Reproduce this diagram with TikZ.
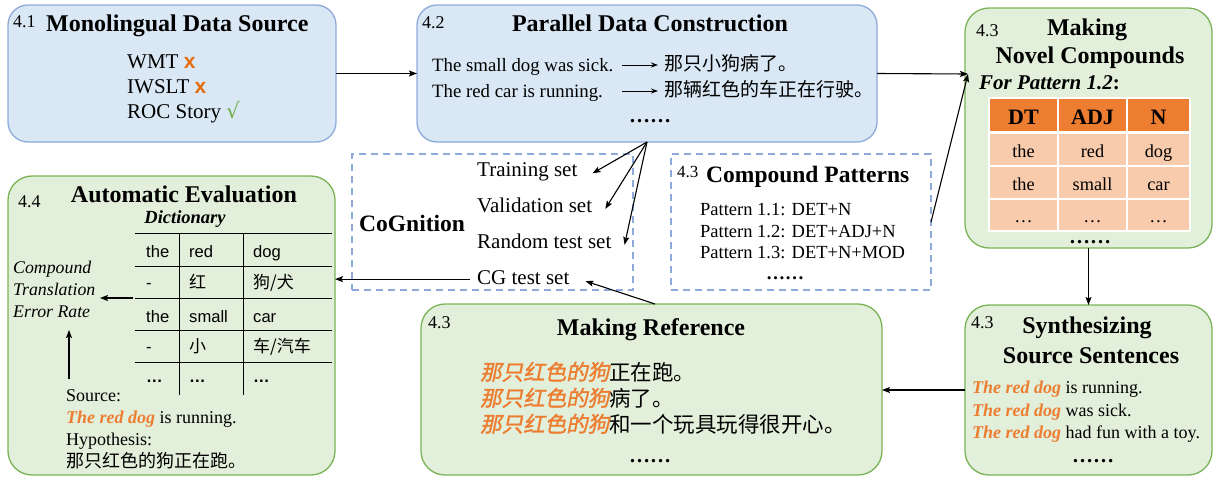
\documentclass[tikz,border=0pt]{standalone}
\usepackage{fontspec}
\setmainfont{Liberation Serif}
\newfontfamily\cjk{Noto Sans CJK SC}
\newfontfamily\cjkit[FakeSlant=0.2,FakeBold=1.5]{Noto Sans CJK SC}
\newfontfamily\dvs{DejaVu Sans}
\newfontfamily\lsans{Liberation Sans}
\usetikzlibrary{arrows.meta}
\newcommand\fsz[1]{\fontsize{#1}{#1}\selectfont}
\definecolor{blueF}{HTML}{DAE8F5}
\definecolor{blueD}{HTML}{8EAADB}
\definecolor{greenF}{HTML}{E2EFDA}
\definecolor{greenD}{HTML}{7AB356}
\definecolor{orT}{HTML}{ED7D31}
\definecolor{hdrO}{HTML}{ED7D31}
\definecolor{cellO}{HTML}{F8CBAD}
\definecolor{xOr}{HTML}{E46C0A}
\definecolor{ckG}{HTML}{70AD47}
\newcommand\mycross{\textcolor{xOr}{\lsans\bfseries x}}
\newcommand\mycheck{\textcolor{ckG}{\dvs √}}
\newcommand\ored[1]{\textcolor{orT}{\bfseries\itshape #1}}
\newcommand\ojk[1]{{\cjkit\textcolor{orT}{#1}}}
\begin{document}
\begin{tikzpicture}[x=1pt,y=-1pt,
  bbox/.style={draw=blueD, fill=blueF, line width=1.3pt, rounded corners=20pt, inner sep=0pt, outer sep=0pt, anchor=north west},
  gbox/.style={bbox, draw=greenD, fill=greenF, rounded corners=24pt},
  dbox/.style={draw=blueD, line width=1.3pt, dash pattern=on 7pt off 5pt, inner sep=0pt, outer sep=0pt, anchor=north west},
  arr/.style={-{Stealth[length=8pt,width=6pt,inset=1.5pt]}, line width=1.1pt},
  lab/.style={anchor=base west, inner sep=0pt, font=\fsz{18}},
  ttl/.style={anchor=base, inner sep=0pt, font=\fsz{24}\bfseries},
  tx/.style={anchor=base west, inner sep=0pt},
  dots/.style={anchor=base, inner sep=0pt, font=\fsz{21}\bfseries},
  hc/.style={draw=white, line width=1.5pt, fill=hdrO, inner sep=0pt, outer sep=0pt, font=\fsz{22}\bfseries, text height=20pt, text depth=2pt, minimum height=34pt},
  bc/.style={draw=white, line width=1.5pt, fill=cellO, inner sep=0pt, outer sep=0pt, font=\fsz{18.3}, text height=17pt, text depth=2pt, minimum height=33pt},
  dt/.style={tx, font=\fsz{16.6}\lsans},
  dc/.style={tx, font=\fsz{17}\cjk},
]
\useasboundingbox (0,0) rectangle (1214,477);

% ---------- 4.1 ----------
\node[bbox, minimum width=328pt, minimum height=137pt] (b41) at (8,5) {};
\node[lab] (l41) at (13,27) {4.1};
\node[tx, font=\fsz{24}\bfseries] (t41) at (46,31) {Monolingual Data Source};
\node[tx, font=\fsz{21}] (w1) at (127,68) {WMT \mycross};
\node[tx, font=\fsz{21}] (w2) at (127,93) {IWSLT \mycross};
\node[tx, font=\fsz{21}] (w3) at (127,118) {ROC Story \mycheck};

% ---------- 4.2 ----------
\node[bbox, minimum width=460pt, minimum height=137pt] (b42) at (417,5) {};
\node[lab] (l42) at (422,28) {4.2};
\node[ttl] (t42) at (650,31) {Parallel Data Construction};
\node[tx, font=\fsz{18.8}] (s1) at (432,71) {The small dog was sick.};
\node[tx, font=\fsz{19}\cjk] (c1) at (664,70) {那只小狗病了。};
\node[tx, font=\fsz{18.8}] (s2) at (432,97) {The red car is running.};
\node[tx, font=\fsz{19}\cjk] (c2) at (664,96) {那辆红色的车正在行驶。};
\coordinate (a1) at (622,65); \coordinate (a1e) at (658,65);
\coordinate (a2) at (622,91); \coordinate (a2e) at (658,91);
\draw[-{Stealth[length=7pt,width=5pt]}, line width=1pt] (a1) -- (a1e);
\draw[-{Stealth[length=7pt,width=5pt]}, line width=1pt] (a2) -- (a2e);
\node[dots] (d42) at (650,122) {……};

% ---------- 4.3 Novel compounds ----------
\node[gbox, minimum width=247pt, minimum height=240pt] (bnc) at (965,8) {};
\node[lab] (lnc) at (976,36) {4.3};
\node[ttl] (tnc1) at (1087,35) {Making};
\node[ttl] (tnc2) at (1090,63) {Novel Compounds};
\node[tx, font=\fsz{21}\bfseries\itshape] (fp) at (979,89) {For Pattern 1.2\textup{:}};
\node[hc, minimum width=69pt] (h1) at (1023.5,115) {DT};
\node[hc, minimum width=69pt] (h2) at (1092.5,115) {ADJ};
\node[hc, minimum width=63pt] (h3) at (1158.5,115) {N};
\node[bc, minimum width=69pt] (r11) at (1023.5,149.5) {the};
\node[bc, minimum width=69pt] (r12) at (1092.5,149.5) {red};
\node[bc, minimum width=63pt] (r13) at (1158.5,149.5) {dog};
\node[bc, minimum width=69pt] (r21) at (1023.5,182.5) {the};
\node[bc, minimum width=69pt] (r22) at (1092.5,182.5) {small};
\node[bc, minimum width=63pt] (r23) at (1158.5,182.5) {car};
\node[bc, minimum width=69pt, minimum height=32pt] (r31) at (1023.5,215) {…};
\node[bc, minimum width=69pt, minimum height=32pt] (r32) at (1092.5,215) {…};
\node[bc, minimum width=63pt, minimum height=32pt] (r33) at (1158.5,215) {…};
\node[dots] (dnc) at (1090,243) {……};

% ---------- CoGnition ----------
\node[dbox, minimum width=281pt, minimum height=136pt] (bcog) at (352,154) {};
\node[tx, font=\fsz{23.5}\bfseries] (cog) at (359,231) {CoGnition};
\node[tx, font=\fsz{21}] (train) at (477,176) {Training set};
\node[tx, font=\fsz{21}] (val) at (477,212) {Validation set};
\node[tx, font=\fsz{21}] (rand) at (477,248) {Random test set};
\node[tx, font=\fsz{21}] (cg) at (477,284) {CG test set};

% ---------- Compound patterns ----------
\node[dbox, minimum width=260pt, minimum height=136pt] (bcp) at (671,154) {};
\node[lab, font=\fsz{17}] (lcp) at (677,177) {4.3};
\node[tx, font=\fsz{23.5}\bfseries] (tcp) at (706,182) {Compound Patterns};
\node[tx, font=\fsz{18.5}] (p1) at (700,215) {Pattern 1.1: DET+N};
\node[tx, font=\fsz{18.5}] (p2) at (700,237) {Pattern 1.2: DET+ADJ+N};
\node[tx, font=\fsz{18.5}] (p3) at (700,258) {Pattern 1.3: DET+N+MOD};
\node[dots, font=\fsz{19}\bfseries] (dcp) at (785,279) {……};

% ---------- 4.4 ----------
\node[gbox, minimum width=327pt, minimum height=299pt] (b44) at (8,176) {};
\node[lab] (l44) at (18,207) {4.4};
\node[ttl] (t44) at (184,202) {Automatic Evaluation};
\node[anchor=base, inner sep=0pt, font=\fsz{18.5}\bfseries\itshape] (dic) at (185,223) {Dictionary};
\foreach \yy in {233,266,298,330,362} \draw[line width=1pt] (135,\yy) -- (332,\yy);
\draw[line width=1pt] (179,233) -- (179,395);
\draw[line width=1pt] (243,233) -- (243,395);
\node[dt] (d11) at (146,257) {the};
\node[dt] (d12) at (189,257) {red};
\node[dt] (d13) at (253,257) {dog};
\node[dt] (d21) at (146,288) {-};
\node[dc] (d22) at (189,288) {红};
\node[dc] (d23) at (253,288) {狗/犬};
\node[dt] (d31) at (146,322) {the};
\node[dt] (d32) at (189,322) {small};
\node[dt] (d33) at (253,322) {car};
\node[dt] (d41) at (146,352) {-};
\node[dc] (d42) at (189,352) {小};
\node[dc] (d43) at (253,352) {车/汽车};
\node[dt, font=\fsz{16.6}\lsans\bfseries] (d51) at (146,382) {…};
\node[dt, font=\fsz{16.6}\lsans\bfseries] (d52) at (189,382) {…};
\node[dt, font=\fsz{16.6}\lsans\bfseries] (d53) at (253,382) {…};
\node[tx, font=\fsz{17.8}\itshape] (ct1) at (13,273) {Compound};
\node[tx, font=\fsz{17.8}\itshape] (ct2) at (13,295) {Translation};
\node[tx, font=\fsz{17.8}\itshape] (ct3) at (13,317) {Error Rate};
\coordinate (dl) at (133,298); \coordinate (dlt) at (100,298);
\draw[arr] (dl) -- (dlt);
\coordinate (su) at (69,379); \coordinate (sut) at (69,330);
\draw[arr] (su) -- (sut);
\node[tx, font=\fsz{18}] (src) at (66,401) {Source:};
\node[tx, font=\fsz{18}] (srt) at (66,423) {\ored{The red dog} is running.};
\node[tx, font=\fsz{18}] (hyp) at (66,445) {Hypothesis:};
\node[tx, font=\fsz{18}\cjk] (hyt) at (66,467) {那只红色的狗正在跑。};

% ---------- Making Reference ----------
\node[gbox, minimum width=461pt, minimum height=171pt] (bref) at (421,304) {};
\node[lab] (lref) at (428,328) {4.3};
\node[ttl] (tref) at (651,335) {Making Reference};
\node[tx, font=\fsz{21.5}\cjk] (rf1) at (480,380) {\ojk{那只红色的狗}正在跑。};
\node[tx, font=\fsz{21.5}\cjk] (rf2) at (480,406) {\ojk{那只红色的狗}病了。};
\node[tx, font=\fsz{21.5}\cjk] (rf3) at (480,432) {\ojk{那只红色的狗}和一个玩具玩得很开心。};
\node[dots] (dref) at (650,462) {……};

% ---------- Synthesizing ----------
\node[gbox, minimum width=247pt, minimum height=170pt] (bsyn) at (965,305) {};
\node[lab] (lsyn) at (971,328) {4.3};
\node[ttl] (tsyn1) at (1087,333) {Synthesizing};
\node[ttl] (tsyn2) at (1091,363) {Source Sentences};
\node[tx, font=\fsz{18}] (y1) at (972,393) {\ored{The red dog} is running.};
\node[tx, font=\fsz{18}] (y2) at (972,416) {\ored{The red dog} was sick.};
\node[tx, font=\fsz{18}] (y3) at (972,438) {\ored{The red dog} had fun with a toy.};
\node[dots] (dsyn) at (1093,462) {……};

% ---------- connectors ----------
\draw[arr] (b41.east) -- (b41.east -| b42.west);
\coordinate (ncin) at (968,74);
\draw[arr] (b42.east) -- (ncin);
\coordinate (cpo) at (931,222);
\draw[arr] (cpo) -- (ncin);
\coordinate (pdo) at (647,142);
\draw[arr] (pdo) -- ([xshift=15pt,yshift=-2pt]train.east);
\draw[arr] (pdo) -- ([xshift=13pt,yshift=-4pt]val.east);
\draw[arr] (pdo) -- ([xshift=13pt,yshift=-4pt]rand.east);
\coordinate (rfo) at (655,304);
\draw[arr] (rfo) -- ([xshift=16pt,yshift=-4pt]cg.east);
\draw[arr] ([xshift=-7pt,yshift=-2pt]cg.west) -- ([yshift=-2pt]cg.west -| b44.east);
\draw[arr] (bnc.south) -- (bsyn.north);
\draw[arr] (bsyn.west) -- (bsyn.west -| bref.east);
\end{tikzpicture}
\end{document}
